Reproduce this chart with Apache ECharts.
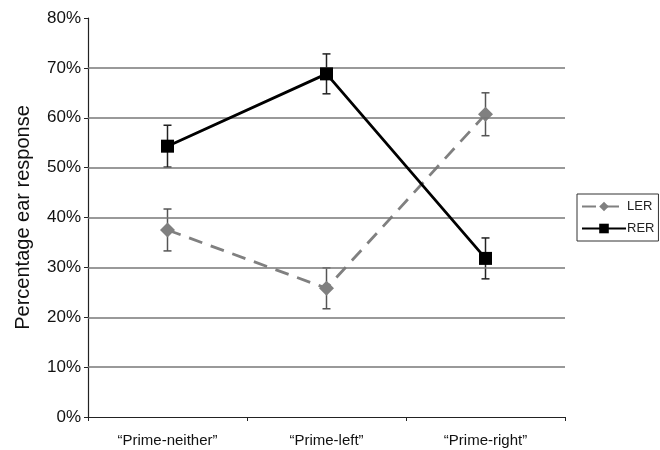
<!DOCTYPE html>
<html><head><meta charset="utf-8">
<script src="https://cdn.jsdelivr.net/npm/echarts@6/dist/echarts.min.js"></script>
<style>html,body{margin:0;padding:0;background:#fff}#c{width:660px;height:450px}</style>
</head><body><div id="c"></div>
<script>
const categories = ['\u201CPrime-neither\u201D', '\u201CPrime-left\u201D', '\u201CPrime-right\u201D'];
const lerValues = [37.5, 25.8, 60.7];
const lerErrors = [4.2, 4.1, 4.3];
const rerValues = [54.3, 68.8, 31.8];
const rerErrors = [4.2, 4.0, 4.1];
const gridValues = [10, 20, 30, 40, 50, 60, 70];

const FONT = 'Liberation Sans, Arial, sans-serif';

function errorSeries(name, values, errors, color) {
  return {
    type: 'custom',
    name: name + '-err',
    silent: true,
    z: 3,
    data: values.map((v, i) => [i, v - errors[i], v + errors[i]]),
    renderItem: function (params, api) {
      const lo = api.coord([api.value(0), api.value(1)]);
      const hi = api.coord([api.value(0), api.value(2)]);
      const w = 4;
      const style = { stroke: color, lineWidth: 1.5 };
      return {
        type: 'group',
        children: [
          { type: 'line', shape: { x1: lo[0], y1: lo[1], x2: hi[0], y2: hi[1] }, style },
          { type: 'line', shape: { x1: lo[0] - w, y1: lo[1], x2: lo[0] + w, y2: lo[1] }, style },
          { type: 'line', shape: { x1: hi[0] - w, y1: hi[1], x2: hi[0] + w, y2: hi[1] }, style }
        ]
      };
    }
  };
}

const chart = echarts.init(document.getElementById('c'), null, { renderer: 'canvas' });
chart.setOption({
  animation: false,
  backgroundColor: '#fff',
  textStyle: { fontFamily: FONT },
  grid: { left: 88, right: 95, top: 18, bottom: 33, containLabel: false },
  legend: {
    orient: 'vertical',
    left: 577, top: 194,
    data: ['LER', 'RER'],
    itemWidth: 44, itemHeight: 12,
    itemGap: 9,
    padding: [6, 4, 6, 4],
    borderColor: '#333', borderWidth: 1,
    textStyle: { fontFamily: FONT, fontSize: 13, color: '#222', padding: [0, 0, 0, -4] }
  },
  xAxis: {
    type: 'category',
    data: categories,
    boundaryGap: true,
    axisLine: { lineStyle: { color: '#222', width: 1.2 } },
    axisTick: { show: true, length: 4, lineStyle: { color: '#222' } },
    axisLabel: { color: '#111', fontSize: 15, margin: 16, fontFamily: FONT },
    splitLine: { show: false }
  },
  yAxis: {
    type: 'value',
    min: 0, max: 80, interval: 10,
    name: 'Percentage ear response',
    nameLocation: 'middle',
    nameGap: 55,
    nameTextStyle: { fontSize: 20, color: '#111', fontFamily: FONT },
    axisLine: { show: true, lineStyle: { color: '#222', width: 1.2 } },
    axisTick: { show: true, length: 4, lineStyle: { color: '#222' } },
    axisLabel: { formatter: '{value}%', color: '#111', fontSize: 17, margin: 7, fontFamily: FONT },
    splitLine: { show: false }
  },
  series: [
    {
      name: 'LER', type: 'line', data: lerValues, z: 4,
      symbol: 'diamond', symbolSize: 15,
      itemStyle: { color: '#808080' },
      lineStyle: { color: '#808080', width: 2.8, type: [14, 9] },
      markLine: {
        silent: true, symbol: 'none', label: { show: false },
        lineStyle: { color: '#777', width: 1.5, type: 'solid' },
        data: gridValues.map(v => ({ yAxis: v }))
      }
    },
    {
      name: 'RER', type: 'line', data: rerValues, z: 5,
      symbol: 'rect', symbolSize: 13,
      itemStyle: { color: '#000' },
      lineStyle: { color: '#000', width: 2.8 }
    },
    errorSeries('LER', lerValues, lerErrors, '#555'),
    errorSeries('RER', rerValues, rerErrors, '#222')
  ]
});
</script></body></html>
